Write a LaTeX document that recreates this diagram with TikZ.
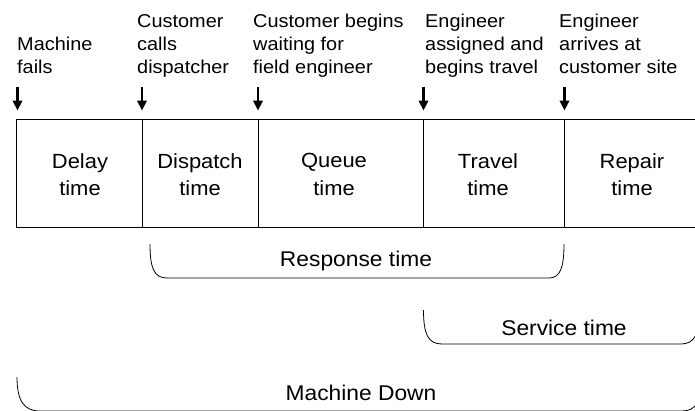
\documentclass[tikz,border=0pt]{standalone}
\usepackage{fontspec}
\setmainfont{Liberation Sans}[FakeStretch=1.07]
\usetikzlibrary{arrows.meta}
\begin{document}
\begin{tikzpicture}[x=1pt,y=-1pt,
  frame/.style={line width=0.9pt},
  event/.style={line width=2.2pt,-{Triangle[length=10pt,width=9.5pt]}},
  toplabel/.style={anchor=base west,inner sep=0pt,align=left,
    font=\fontsize{18.6}{23.3}\selectfont},
  cell/.style={inner sep=0pt,align=center,font=\fontsize{20.5}{27.5}\selectfont},
  span/.style={line width=0.8pt},
  spanlabel/.style={inner sep=0pt,anchor=base,font=\fontsize{21.3}{25}\selectfont}]
\useasboundingbox (0,0) rectangle (695,410);
\clip (0,0) rectangle (695,410);

% timeline frame (open towards the right)
\coordinate (tl) at (16.5,119.5);
\coordinate (bl) at (16.5,227.5);
\coordinate (tr) at (705,119.5);
\coordinate (br) at (705,227.5);
\draw[frame] (tr) -- (tl) -- (bl) -- (br);

% boundaries between the phases
\foreach \x [count=\i] in {142,258,423.5,564.5} {
  \coordinate (d\i t) at (\x,119.5);
  \coordinate (d\i b) at (\x,227.5);
  \draw[frame] (d\i t) -- (d\i b);
}

% event arrows
\foreach \x [count=\i] in {17.5,142,258,423.5,564.5} {
  \coordinate (e\i) at (\x,86.5);
  \coordinate (f\i) at (\x,110.5);
  \draw[event] (e\i) -- (f\i);
}

% event descriptions (anchored at the baseline of their last line)
\node[toplabel] (ev1) at (17,73.6)  {Machine\\fails};
\node[toplabel] (ev2) at (137,73.6) {Customer\\calls\\dispatcher};
\node[toplabel] (ev3) at (253,73.6) {Customer begins\\waiting for\\field engineer};
\node[toplabel] (ev4) at (425,73.6) {Engineer\\assigned and\\begins travel};
\node[toplabel] (ev5) at (559,73.6) {Engineer\\arrives at\\customer site};

% phase names
\node[cell] (delay)    at (80,174.5)  {Delay\\time};
\node[cell] (dispatch) at (200,174.5) {Dispatch\\time};
\node[cell] (queue)    at (334,174.5) {Queue\\time};
\node[cell] (travel)   at (488,174.5) {Travel\\time};
\node[cell] (repair)   at (632,174.5) {Repair\\time};

% response time bracket
\coordinate (r1) at (150,244);
\coordinate (r2) at (564,244);
\draw[span] (r1) .. controls (150,268) and (154,278) .. (167,278)
  -- (549,278) .. controls (560,278) and (564,268) .. (r2);
\node[spanlabel] (resp) at (356,266.5) {Response time};

% service time bracket
\coordinate (s1) at (423.5,310);
\coordinate (s2) at (700,310);
\draw[span] (s1) .. controls (423.5,334) and (428,344) .. (442,344)
  -- (681,344) .. controls (694,344) and (700,334) .. (s2);
\node[spanlabel] (serv) at (564,335) {Service time};

% machine down bracket
\coordinate (m1) at (17,377);
\coordinate (m2) at (702,377);
\draw[span] (m1) .. controls (17,401) and (24,411) .. (40,411)
  -- (682,411) .. controls (696,411) and (702,401) .. (m2);
\node[spanlabel] (down) at (361,400) {Machine Down};
\end{tikzpicture}
\end{document}
